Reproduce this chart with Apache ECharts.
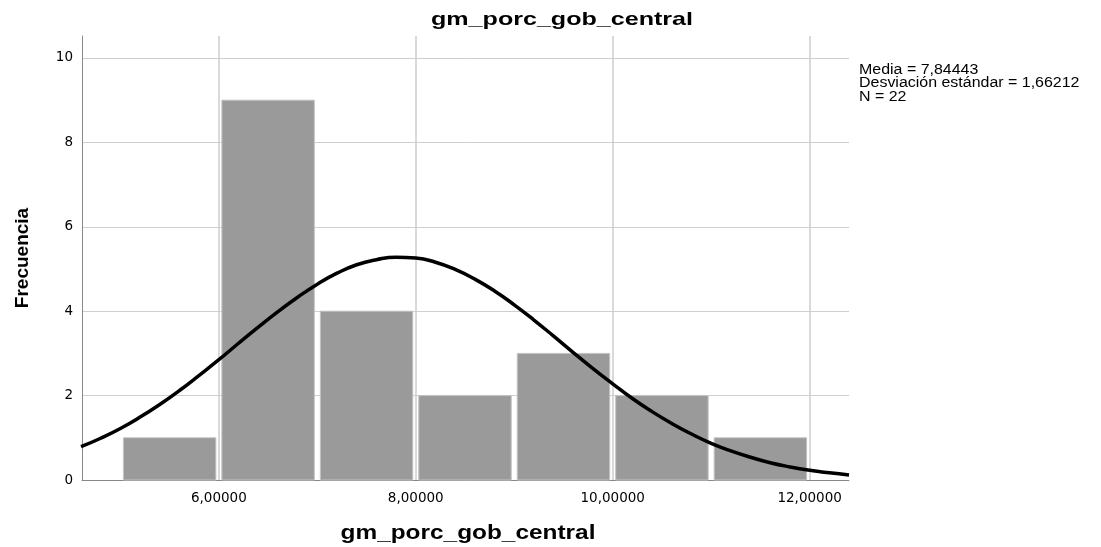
<!DOCTYPE html>
<html><head><meta charset="utf-8">
<script src="https://cdn.jsdelivr.net/npm/echarts@6/dist/echarts.min.js"></script>
<style>html,body{margin:0;padding:0;background:#fff}#c{width:1101px;height:547px}</style>
</head><body><div id="c"></div>
<script>
// Histogram bins (lower edge, upper edge) and frequencies
const binStarts = [5, 6, 7, 8, 9, 10, 11];
const binEnds = [6, 7, 8, 9, 10, 11, 12];
const frequencies = [1, 9, 4, 2, 3, 2, 1];
// Normal curve
const curveX = [4.6,4.8,5.0,5.2,5.4,5.6,5.8,6.0,6.2,6.4,6.6,6.8,7.0,7.2,7.4,7.6,7.8,8.0,8.2,8.4,8.6,8.8,9.0,9.2,9.4,9.6,9.8,10.0,10.2,10.4,10.6,10.8,11.0,11.2,11.4,11.6,11.8,12.0,12.2,12.4];
const curveY = [0.79,0.99,1.22,1.49,1.79,2.12,2.48,2.85,3.24,3.62,3.99,4.33,4.64,4.90,5.10,5.22,5.28,5.26,5.16,4.99,4.76,4.48,4.15,3.79,3.41,3.02,2.64,2.28,1.93,1.62,1.34,1.09,0.87,0.69,0.54,0.41,0.31,0.23,0.17,0.12];
const xTicks = [6, 8, 10, 12];
const xTickLabels = ['6,00000', '8,00000', '10,00000', '12,00000'];
const yTicks = [0, 2, 4, 6, 8, 10];
const titleText = 'gm_porc_gob_central';
const xName = 'gm_porc_gob_central';
const yName = 'Frecuencia';
const statsLines = ['Media = 7,84443', 'Desviación estándar = 1,66212', 'N = 22'];

const chart = echarts.init(document.getElementById('c'), null, {renderer: 'canvas'});
const barData = binStarts.map((s, i) => [s, binEnds[i], frequencies[i]]);
const curveData = curveX.map((x, i) => [x, curveY[i]]);
const F = 'Liberation Sans, Arial, sans-serif';
const TF = 'DejaVu Sans, sans-serif';
chart.setOption({
  animation: false,
  grid: {left: 82, right: 252, top: 36, bottom: 67},
  xAxis: {type: 'value', min: 4.61, max: 12.4,
    axisLine: {show: true, onZero: false, lineStyle: {color: '#888', width: 1}},
    axisTick: {show: false, customValues: xTicks},
    axisLabel: {customValues: xTicks, formatter: v => xTickLabels[xTicks.indexOf(Math.round(v))] || '',
      fontFamily: TF, fontSize: 13.5, color: '#000', margin: 11},
    splitLine: {show: true, lineStyle: {color: '#cccccc', width: 1.5}}
  },
  yAxis: {type: 'value', min: 0, max: 10.52,
    name: yName, nameLocation: 'middle', nameGap: 50, nameRotate: 90,
    nameTextStyle: {fontFamily: F, fontSize: 19, fontWeight: 'bold', color: '#000'},
    axisLine: {show: true, lineStyle: {color: '#888', width: 1}},
    axisTick: {show: false, customValues: yTicks},
    axisLabel: {customValues: yTicks, fontFamily: TF, fontSize: 13.5, color: '#000', margin: 9},
    splitLine: {show: true, lineStyle: {color: '#cfcfcf', width: 1}}
  },
  series: [
    {type: 'custom', data: barData, encode: {x: [0, 1], y: 2}, z: 2,
      renderItem: function (params, api) {
        const p0 = api.coord([api.value(0), api.value(2)]);
        const p1 = api.coord([api.value(1), 0]);
        const inset = 3;
        return {type: 'rect', shape: {x: p0[0] + inset, y: p0[1], width: p1[0] - p0[0] - 2 * inset, height: p1[1] - p0[1]},
          style: {fill: '#9a9a9a', stroke: '#c4c4c4', lineWidth: 1}};
      }
    },
    {type: 'line', data: curveData, smooth: true, showSymbol: false, z: 5,
      lineStyle: {color: '#000', width: 3.5}}
  ],
  graphic: [
    {type: 'text', x: 562, y: 20, scaleX: 1.32,
      style: {text: titleText, x: 0, y: 0, align: 'center', verticalAlign: 'middle',
        font: 'bold 19px ' + F, fill: '#000'}},
    {type: 'text', x: 468, y: 533, scaleX: 1.22,
      style: {text: xName, x: 0, y: 0, align: 'center', verticalAlign: 'middle',
        font: 'bold 20px ' + F, fill: '#000'}},
    {type: 'text', x: 859, y: 63, scaleX: 1.14,
      style: {text: statsLines.join('\n'), x: 0, y: 0, align: 'left', verticalAlign: 'top',
        font: '14px ' + F, lineHeight: 13.5, fill: '#000'}}
  ]
});
</script></body></html>
